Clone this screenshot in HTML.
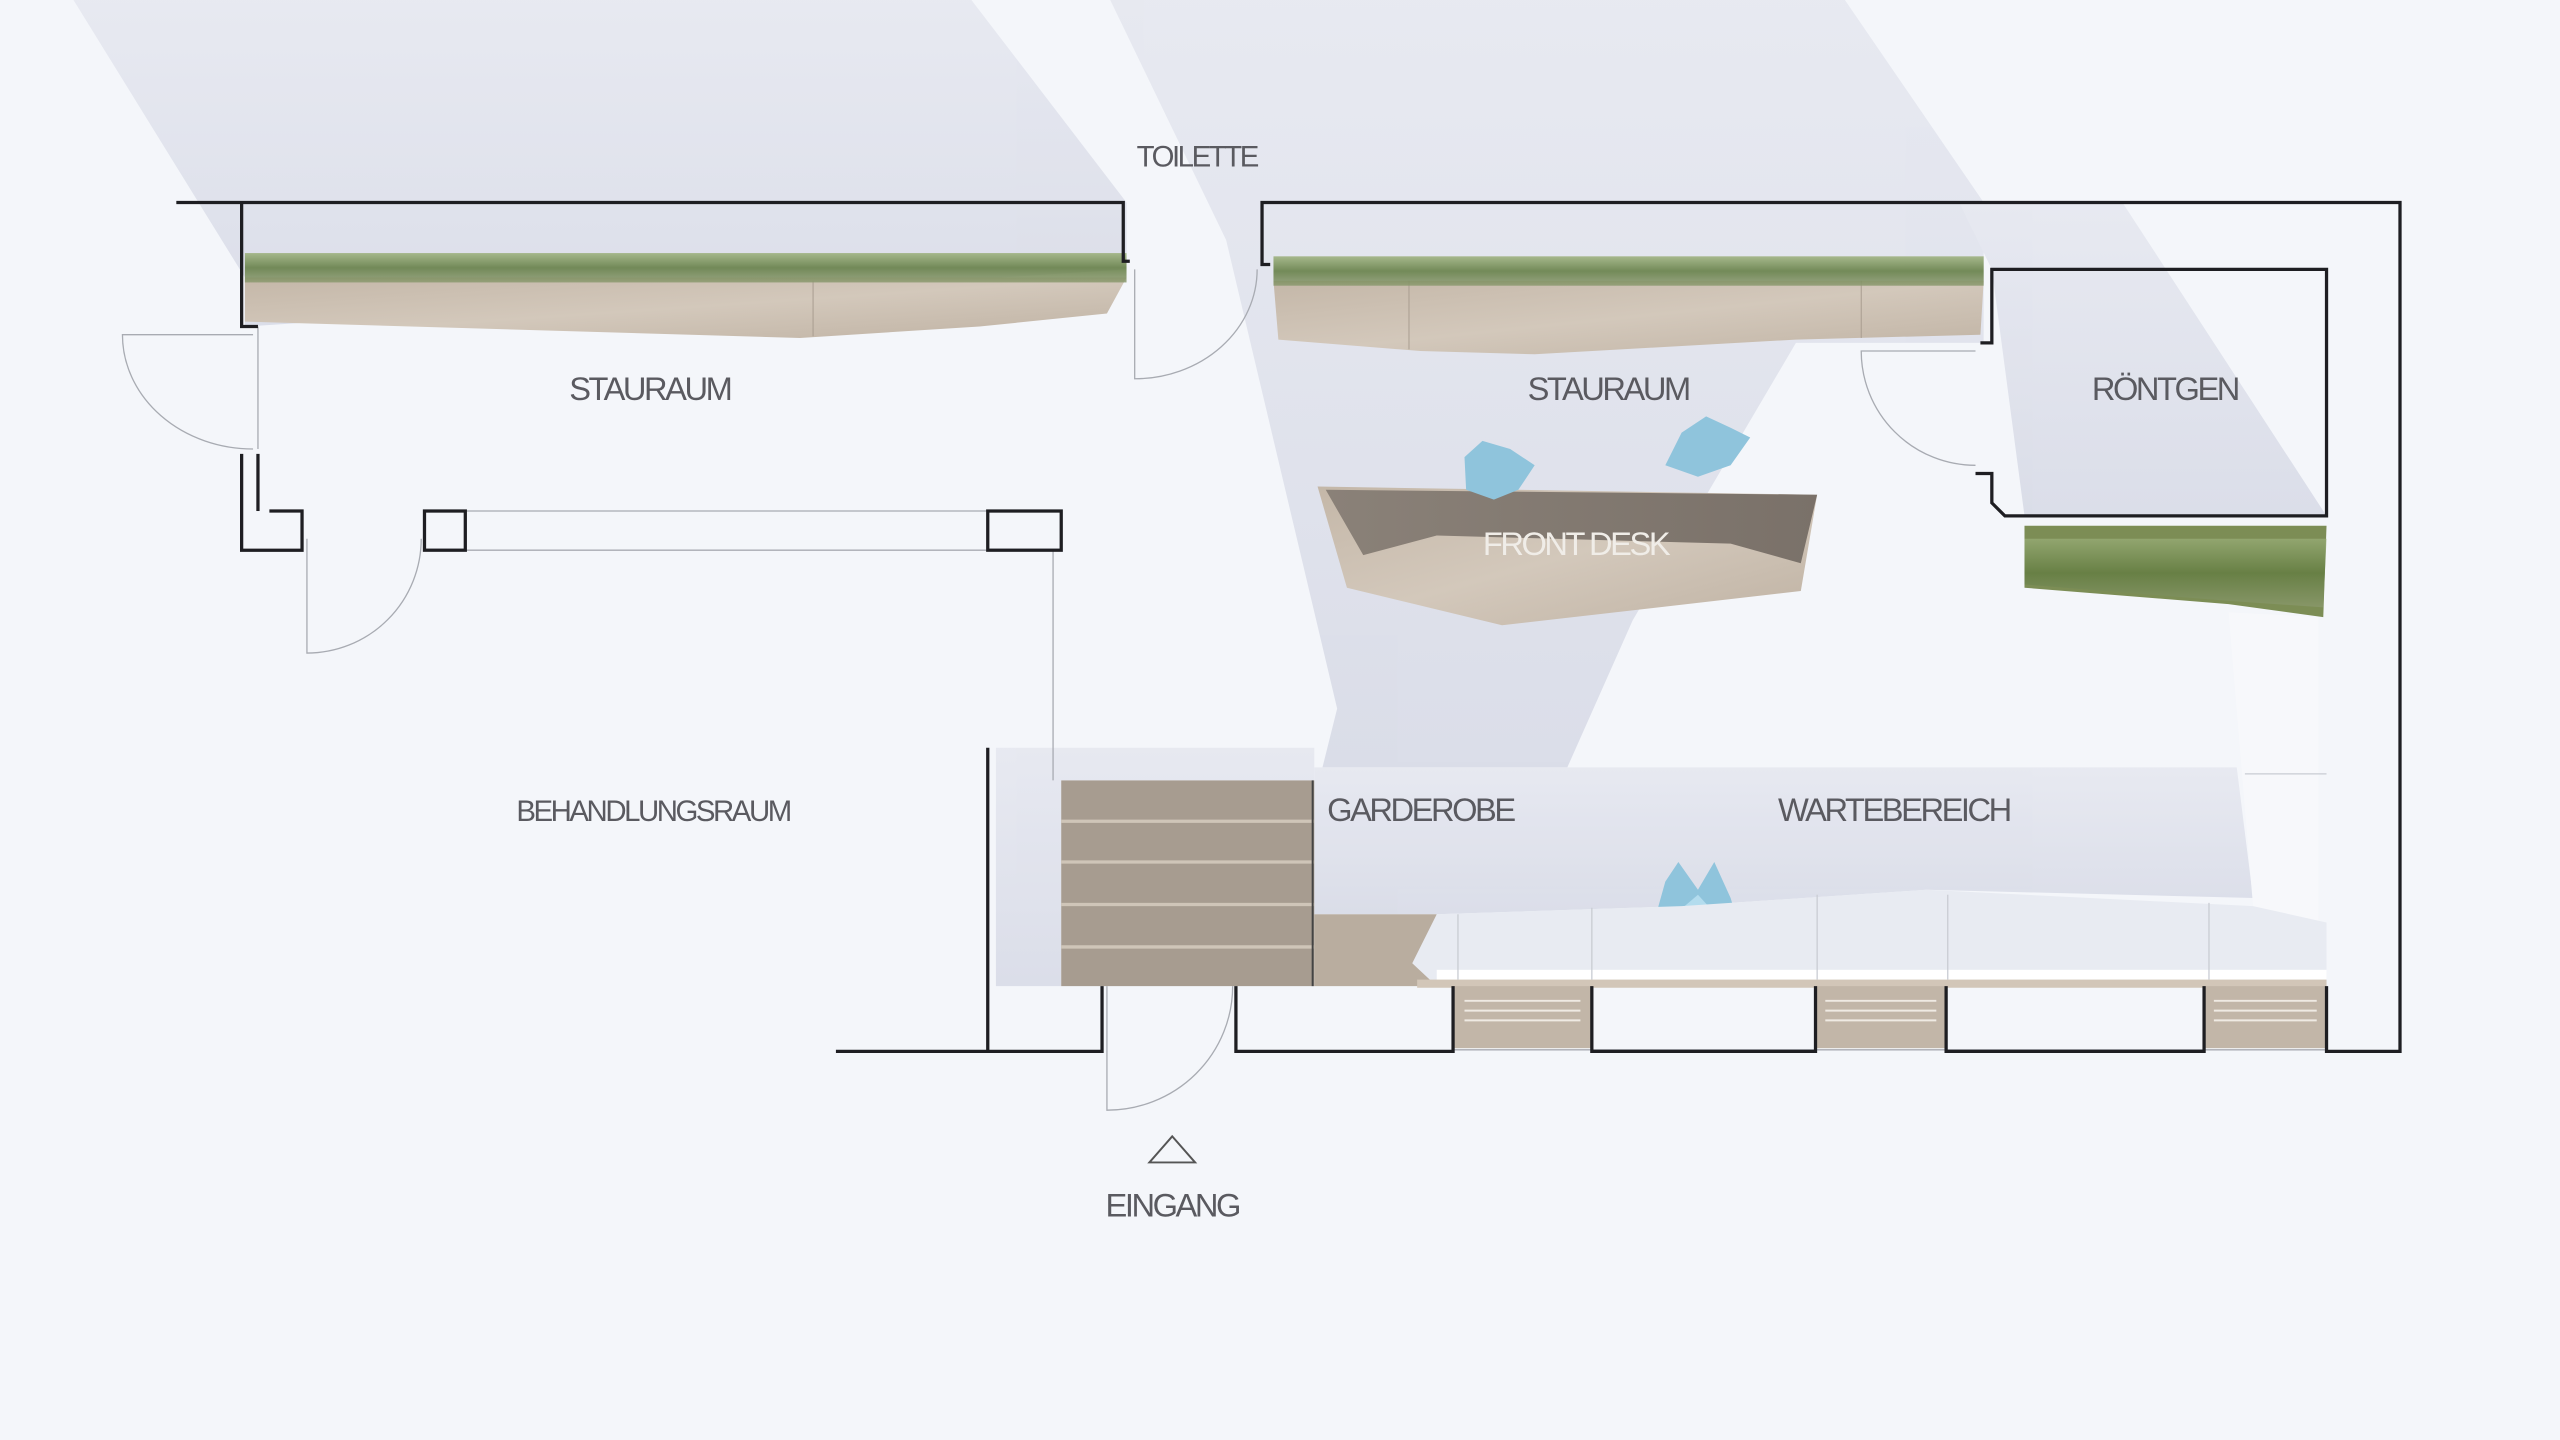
<!DOCTYPE html>
<html><head><meta charset="utf-8"><style>
html,body{margin:0;padding:0;background:#f4f6fa;}
svg{display:block}
text{font-family:"Liberation Sans Narrow","Liberation Sans",sans-serif;fill:#5a5a60;font-weight:300}
</style></head><body>
<svg width="2560" height="1440" viewBox="0 0 1568 882" xmlns="http://www.w3.org/2000/svg">
<defs>
<linearGradient id="wood" x1="0" y1="0" x2="1" y2="1"><stop offset="0" stop-color="#c4b7a8"/><stop offset="0.5" stop-color="#d3c8bb"/><stop offset="1" stop-color="#bfb2a3"/></linearGradient>
<linearGradient id="dwood" x1="0" y1="0" x2="1" y2="0"><stop offset="0" stop-color="#8a8178"/><stop offset="1" stop-color="#7a7169"/></linearGradient>
<linearGradient id="grass" x1="0" y1="0" x2="0" y2="1"><stop offset="0" stop-color="#9bb07a"/><stop offset="0.5" stop-color="#5f7a3e"/><stop offset="1" stop-color="#8c9a70"/></linearGradient>
<linearGradient id="sh" x1="0" y1="0" x2="0" y2="1"><stop offset="0" stop-color="#e6e8f0"/><stop offset="1" stop-color="#d8dbe7"/></linearGradient>
</defs>
<rect width="1568" height="882" fill="#f4f6fa"/>
<!-- shadows -->
<g fill="url(#sh)" opacity="0.9">
<polygon points="45,0 595,0 690,124 690,165 150,200 150,170"/>
<polygon points="680,0 1130,0 1215,124 1215,210 1100,210 1000,380 960,470 810,470 819,434 751,147"/>
<polygon points="1200,124 1300,124 1425,316 1240,316 1220,165"/>
<polygon points="805,470 1370,470 1380,550 1180,545 1030,555 880,560 805,560"/>
<polygon points="610,458 805,458 805,478 650,478 650,604 610,604"/>
</g>
<polygon points="1365,375 1420,378 1420,565 1380,555" fill="#f7f8fb"/>
<!-- left planter -->
<polygon points="150,170 690,170 678,192 600,200 490,207 150,197" fill="url(#wood)"/>
<line x1="498" y1="172" x2="498" y2="206" stroke="#a89c8f" stroke-width="0.6"/>
<rect x="150" y="155" width="540" height="18" fill="url(#grass)" opacity="0.85"/>
<!-- right planter -->
<polygon points="780,172 1215,172 1213,205 1100,208 940,217 870,215 783,208" fill="url(#wood)"/>
<line x1="863" y1="172" x2="863" y2="214" stroke="#a89c8f" stroke-width="0.6"/>
<line x1="1140" y1="172" x2="1140" y2="207" stroke="#a89c8f" stroke-width="0.6"/>
<rect x="780" y="157" width="435" height="18" fill="url(#grass)" opacity="0.85"/>
<!-- roentgen planter -->
<polygon points="1240,322 1425,322 1423,378 1365,370 1240,360" fill="#7c8d55"/>
<polygon points="1240,330 1425,330 1423,372 1365,368 1240,358" fill="url(#grass)" opacity="0.7"/>
<!-- front desk -->
<polygon points="807,298 1113,303 1103,362 920,383 825,360" fill="url(#wood)"/>
<polygon points="812,300 1113,303 1103,345 1060,333 880,328 835,340" fill="url(#dwood)"/>
<!-- birds -->
<polygon points="897,280 908,270 925,275 940,285 930,300 915,306 898,300" fill="#8fc4dc"/>
<polygon points="1020,285 1030,265 1045,255 1060,262 1072,268 1060,285 1040,292" fill="#8fc4dc"/>
<polygon points="1013,565 1020,540 1028,528 1040,545 1050,528 1060,550 1066,570 1055,588 1025,590" fill="#8fc4dc"/>
<polygon points="1020,565 1040,548 1060,570 1040,585" fill="#b3dcee"/>
<!-- stairs -->
<rect x="650" y="478" width="155" height="126" fill="#a79c90"/>
<g stroke="#cfc5b8" stroke-width="2"><line x1="650" y1="503" x2="805" y2="503"/><line x1="650" y1="528" x2="805" y2="528"/><line x1="650" y1="554" x2="805" y2="554"/><line x1="650" y1="580" x2="805" y2="580"/></g>
<rect x="805" y="560" width="75" height="44" fill="#b9ad9f"/>
<line x1="804" y1="478" x2="804" y2="604" stroke="#444" stroke-width="1.2"/>
<!-- bench -->
<polygon points="880,560 1030,555 1180,545 1380,555 1425,565 1425,604 880,604 865,590" fill="#e8ebf2"/>
<rect x="880" y="594" width="545" height="10" fill="#ffffff"/>
<rect x="868" y="600" width="557" height="5" fill="#d2c6b8"/>
<g stroke="#c9ccd3" stroke-width="0.8"><line x1="893" y1="560" x2="893" y2="600"/><line x1="975" y1="556" x2="975" y2="600"/><line x1="1113" y1="548" x2="1113" y2="600"/><line x1="1193" y1="548" x2="1193" y2="600"/><line x1="1353" y1="553" x2="1353" y2="600"/><line x1="1375" y1="474" x2="1425" y2="474"/></g>
<rect x="890" y="604" width="85" height="38" fill="#c2b6a8"/>
<rect x="1112" y="604" width="80" height="38" fill="#c2b6a8"/>
<rect x="1350" y="604" width="75" height="38" fill="#c2b6a8"/>
<g stroke="#efeae3" stroke-width="1.2"><line x1="897" y1="613" x2="968" y2="613"/><line x1="897" y1="619" x2="968" y2="619"/><line x1="897" y1="625" x2="968" y2="625"/><line x1="1118" y1="613" x2="1186" y2="613"/><line x1="1118" y1="619" x2="1186" y2="619"/><line x1="1118" y1="625" x2="1186" y2="625"/><line x1="1356" y1="613" x2="1419" y2="613"/><line x1="1356" y1="619" x2="1419" y2="619"/><line x1="1356" y1="625" x2="1419" y2="625"/></g>
<!-- thin lines -->
<g stroke="#a8abb2" stroke-width="0.8" fill="none">
<line x1="285" y1="313" x2="605" y2="313"/><line x1="285" y1="337" x2="605" y2="337"/>
<line x1="645" y1="337" x2="645" y2="478"/>
<line x1="158" y1="200" x2="158" y2="275"/>
<path d="M155,205 L75,205 A80,70 0 0 0 155,275"/>
<path d="M188,330 L188,400 A70,70 0 0 0 258,330"/>
<path d="M695,165 L695,232 A75,67 0 0 0 770,165"/>
<path d="M1210,215 L1140,215 A70,70 0 0 0 1210,285"/>
<path d="M678,604 L678,680 A77,76 0 0 0 755,604"/>
<line x1="890" y1="643" x2="1425" y2="643"/>
</g>
<!-- walls -->
<g stroke="#1e1e22" stroke-width="2" fill="none">
<polyline points="108,124 688,124 688,160 692,160"/>
<polyline points="148,124 148,200 158,200"/>
<polyline points="148,278 148,337 185,337 185,313 165,313"/>
<polyline points="158,278 158,313"/>
<rect x="260" y="313" width="25" height="24"/>
<rect x="605" y="313" width="45" height="24"/>
<polyline points="605,458 605,644 512,644"/>
<polyline points="605,644 675,644 675,604"/>
<polyline points="757,604 757,644 890,644 890,604"/>
<polyline points="975,604 975,644 1112,644 1112,604"/>
<polyline points="1192,604 1192,644 1350,644 1350,604"/>
<polyline points="1425,604 1425,644 1470,644 1470,124 773,124 773,162 778,162"/>
<polyline points="1213,210 1220,210 1220,165 1425,165 1425,316 1228,316 1220,308 1220,290 1210,290"/>
</g>
<!-- labels -->
<g font-size="20" text-anchor="middle" letter-spacing="-1.5">
<text x="733" y="102" font-size="18">TOILETTE</text>
<text x="398" y="245">STAURAUM</text>
<text x="985" y="245">STAURAUM</text>
<text x="1326" y="245">RÖNTGEN</text>
<text x="965" y="340" style="fill:#f0ede8">FRONT DESK</text>
<text x="400" y="503" font-size="18">BEHANDLUNGSRAUM</text>
<text x="870" y="503">GARDEROBE</text>
<text x="1160" y="503">WARTEBEREICH</text>
<text x="718" y="745">EINGANG</text>
</g>
<polygon points="718,696 704,712 732,712" fill="none" stroke="#555" stroke-width="1.2"/>
</svg>
</body></html>
